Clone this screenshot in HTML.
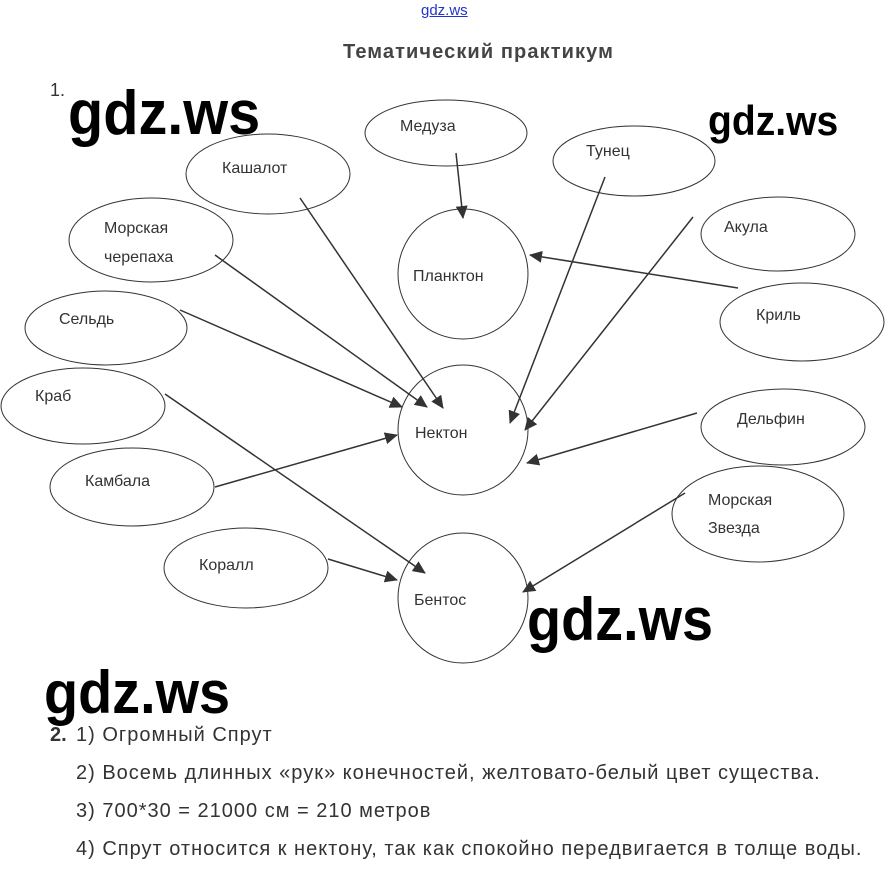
<!DOCTYPE html>
<html><head><meta charset="utf-8"><style>
body{margin:0;width:896px;height:876px;background:#fff;position:relative;overflow:hidden;font-family:"Liberation Sans",sans-serif}
.a{position:absolute;white-space:nowrap}
.wm{font-family:"Liberation Sans",sans-serif;font-weight:bold;color:#000;transform-origin:0 0;transform:scaleX(0.93)}
.t{color:#333;font-size:20px;letter-spacing:1px}
</style></head><body>
<div class="a" style="left:421px;top:2px;font-size:15px;color:#2233cc;text-decoration:underline">gdz.ws</div>
<div class="a" style="left:343px;top:41px;font-size:20px;font-weight:bold;color:#444;letter-spacing:1.1px">Тематический практикум</div>
<div class="a" style="left:50px;top:80px;font-size:18px;color:#333">1.</div>
<svg class="a" style="left:0;top:0" width="896" height="876">
<defs><marker id="m" markerWidth="13" markerHeight="12" refX="12" refY="6" orient="auto" markerUnits="userSpaceOnUse"><path d="M0,0 L13,6 L0,12 z" fill="#333"/></marker></defs>
<g fill="none" stroke="#333" stroke-width="1">
<ellipse cx="446" cy="133" rx="81" ry="33"/>
<ellipse cx="268" cy="174" rx="82" ry="40"/>
<ellipse cx="634" cy="161" rx="81" ry="35"/>
<ellipse cx="463" cy="274" rx="65" ry="65"/>
<ellipse cx="151" cy="240" rx="82" ry="42"/>
<ellipse cx="778" cy="234" rx="77" ry="37"/>
<ellipse cx="106" cy="328" rx="81" ry="37"/>
<ellipse cx="802" cy="322" rx="82" ry="39"/>
<ellipse cx="83" cy="406" rx="82" ry="38"/>
<ellipse cx="463" cy="430" rx="65" ry="65"/>
<ellipse cx="783" cy="427" rx="82" ry="38"/>
<ellipse cx="132" cy="487" rx="82" ry="39"/>
<ellipse cx="758" cy="514" rx="86" ry="48"/>
<ellipse cx="246" cy="568" rx="82" ry="40"/>
<ellipse cx="463" cy="598" rx="65" ry="65"/>
</g>
<g stroke="#333" stroke-width="1.5" marker-end="url(#m)">
<line x1="456" y1="153" x2="463" y2="218"/>
<line x1="300" y1="198" x2="443" y2="408"/>
<line x1="215" y1="255" x2="427" y2="407"/>
<line x1="180" y1="310" x2="402" y2="407"/>
<line x1="605" y1="177" x2="510" y2="423"/>
<line x1="693" y1="217" x2="525" y2="430"/>
<line x1="738" y1="288" x2="530" y2="255"/>
<line x1="165" y1="394" x2="425" y2="573"/>
<line x1="215" y1="487" x2="397" y2="435"/>
<line x1="697" y1="413" x2="527" y2="463"/>
<line x1="685" y1="493" x2="523" y2="592"/>
<line x1="328" y1="559" x2="397" y2="580"/>
</g>
<g font-family="Liberation Sans, sans-serif" font-size="16" fill="#333">
<text x="400" y="131">Медуза</text>
<text x="222" y="173">Кашалот</text>
<text x="586" y="156">Тунец</text>
<text x="413" y="281">Планктон</text>
<text x="104" y="233">Морская</text>
<text x="104" y="262">черепаха</text>
<text x="724" y="232">Акула</text>
<text x="59" y="324">Сельдь</text>
<text x="756" y="320">Криль</text>
<text x="35" y="401">Краб</text>
<text x="415" y="438">Нектон</text>
<text x="737" y="424">Дельфин</text>
<text x="85" y="486">Камбала</text>
<text x="708" y="505">Морская</text>
<text x="708" y="533">Звезда</text>
<text x="199" y="570">Коралл</text>
<text x="414" y="605">Бентос</text>
</g>
</svg>
<div class="a wm" style="left:68px;top:78px;font-size:62px">gdz.ws</div>
<div class="a wm" style="left:708px;top:97px;font-size:42px">gdz.ws</div>
<div class="a wm" style="left:527px;top:585px;font-size:60px">gdz.ws</div>
<div class="a wm" style="left:44px;top:658px;font-size:60px">gdz.ws</div>
<div class="a t" style="left:50px;top:724px;font-weight:bold;letter-spacing:0">2.</div>
<div class="a t" style="left:76px;top:724px">1) Огромный Спрут</div>
<div class="a t" style="left:76px;top:762px">2) Восемь длинных «рук» конечностей, желтовато-белый цвет существа.</div>
<div class="a t" style="left:76px;top:800px">3) 700*30 = 21000 см = 210 метров</div>
<div class="a t" style="left:76px;top:838px">4) Спрут относится к нектону, так как спокойно передвигается в толще воды.</div>
</body></html>
